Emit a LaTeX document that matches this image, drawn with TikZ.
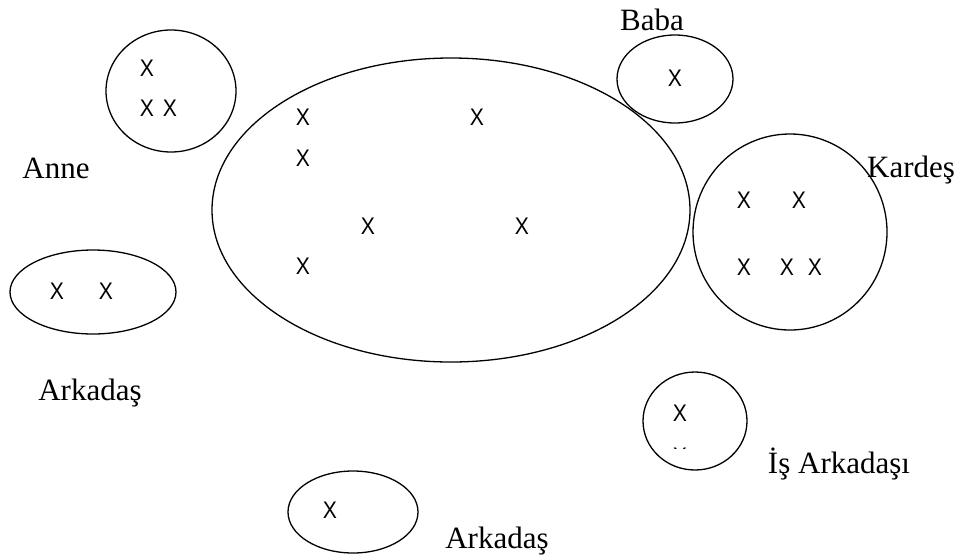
\documentclass[tikz,border=0pt]{standalone}
\usepackage{fontspec}
\setmainfont{Liberation Serif}
\newfontfamily\crossfont[FakeStretch=0.88]{Liberation Sans}
\usetikzlibrary{positioning}

\tikzset{
    cross/.style={inner sep=0pt, font=\crossfont\fontsize{24}{24}\selectfont},
    lbl/.style={inner sep=0pt, anchor=base, font=\fontsize{31}{31}\selectfont},
    ring/.style={line width=1.3pt}
}

\begin{document}
\begin{tikzpicture}[x=1pt,y=-1pt]
                \useasboundingbox (0,0) rectangle (957,555);

                % Drawing the rings
                \draw[ring] (451,210) ellipse [x radius=239, y radius=152];
                \draw[ring] (171,91) ellipse [x radius=65, y radius=61];
                \draw[ring] (675,79) ellipse [x radius=58, y radius=44];
                \draw[ring] (790,232) ellipse [x radius=97, y radius=98];
                \draw[ring] (93,292) ellipse [x radius=83, y radius=42];
                \draw[ring] (695,421) ellipse [x radius=52, y radius=49];
                \draw[ring] (353,512) ellipse [x radius=65, y radius=41];

                % Labels (placed at their base line)
                \node[lbl] (anne) at (56,178) {Anne};
                \node[lbl] (baba) at (652,30) {Baba};
                \node[lbl] (kardes) at (911,177) {Kardeş};
                \node[lbl] (arkadas1) at (90,400) {Arkadaş};
                \node[lbl] (isark) at (839,473) {İş Arkadaşı};
                \node[lbl] (arkadas2) at (497,548) {Arkadaş};

                % The x's
                \foreach \px/\py [count=\n] in {303/117, 477/117, 303/158, 368/226, 522/226, 303/266,
                        147/68, 147/108, 170/108, 675/78, 744/200, 799/200,
                        744/267, 787/267, 815/267, 57/291, 106/291, 680/413, 330/510}{
                    \node[cross] (x\n) at (\px,\py) {X};
                }
                \begin{scope}
                    \clip (650,380) rectangle (720,448);
                    \node[cross] (xcut) at (680,456) {X};
                \end{scope}
            \end{tikzpicture}
\end{document}
